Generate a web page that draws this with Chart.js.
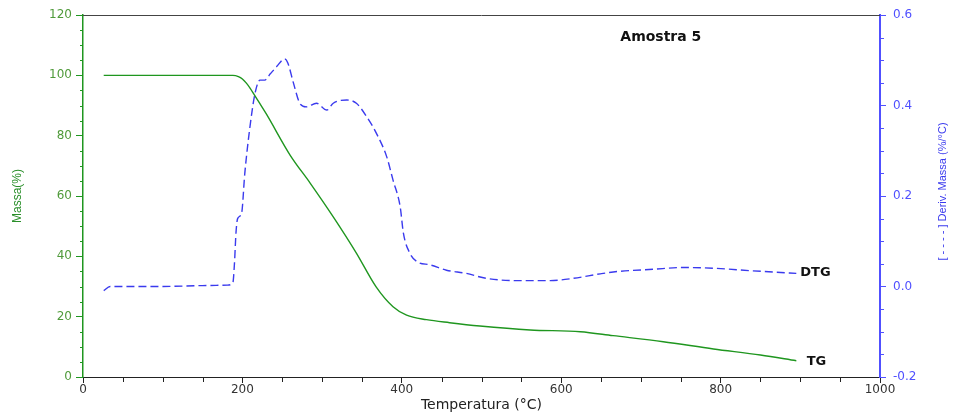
<!DOCTYPE html>
<html>
<head>
<meta charset="utf-8">
<script src="https://cdn.jsdelivr.net/npm/chart.js@4"></script>
<style>
  body { margin: 0; background: #fff; }
  #box { width: 953px; height: 412px; }
</style>
</head>
<body>
<div id="box"><canvas id="chart-tga"></canvas></div>
<script>
// TG curve: temperature (°C) and mass (%)
const tgTemp = [26, 100, 150, 188, 195, 200, 205, 210, 215, 222, 230, 260, 285, 314, 343, 368, 389, 406, 431, 460, 498, 561, 624, 665, 728, 791, 850, 895];
const tgMass = [100, 100, 100, 100, 99.6, 98.8, 97.4, 95.6, 93.5, 90.6, 87.2, 73.5, 64.3, 53.1, 41.1, 29.8, 23.3, 20.5, 19.0, 18.0, 16.9, 15.6, 15.0, 13.7, 11.7, 9.3, 7.3, 5.4];

// DTG curve: temperature (°C) and deriv. mass (%/°C)
const dtgTemp = [26, 34, 100, 150, 181, 188, 190, 192, 194, 199, 203, 210, 216, 222, 228, 235, 243, 253, 257, 264, 272, 280, 293, 306, 314, 331, 343, 356, 368, 381, 389, 398, 402, 410, 420, 435, 456, 481, 506, 544, 586, 615, 649, 670, 715, 753, 795, 837, 895];
const dtgDeriv = [-0.009, 0.0, 0.0, 0.002, 0.003, 0.008, 0.05, 0.12, 0.15, 0.162, 0.25, 0.36, 0.428, 0.456, 0.456, 0.47, 0.486, 0.503, 0.494, 0.45, 0.405, 0.397, 0.405, 0.39, 0.405, 0.412, 0.405, 0.375, 0.339, 0.287, 0.235, 0.176, 0.118, 0.074, 0.054, 0.048, 0.036, 0.029, 0.018, 0.013, 0.013, 0.018, 0.028, 0.033, 0.038, 0.042, 0.04, 0.035, 0.029];

const GREEN = "#1f961f";
const GREEN_TXT = "#4f9a3a";
const BLUE = "#3a3aee";
const BLUE_AXIS = "#5050ff";

// minor ticks, top frame line and the text labels inside the plot
const extras = {
  id: "extras",
  afterDraw(chart) {
    const { ctx, chartArea: a, scales } = chart;
    const { x, y, y1 } = scales;
    ctx.save();
    ctx.lineWidth = 1;

    ctx.strokeStyle = "#444";
    ctx.beginPath();
    ctx.moveTo(a.left, a.top + 0.5);
    ctx.lineTo(a.right, a.top + 0.5);
    ctx.stroke();

    ctx.strokeStyle = "#222";
    for (let v = 50; v < 1000; v += 50) {
      if (v % 200 === 0) continue;
      const px = Math.round(x.getPixelForValue(v)) + 0.5;
      ctx.beginPath();
      ctx.moveTo(px, a.bottom);
      ctx.lineTo(px, a.bottom + 5);
      ctx.stroke();
    }

    ctx.strokeStyle = GREEN;
    for (let v = 5; v < 120; v += 5) {
      if (v % 20 === 0) continue;
      const py = Math.round(y.getPixelForValue(v)) + 0.5;
      ctx.beginPath();
      ctx.moveTo(a.left, py);
      ctx.lineTo(a.left - 3, py);
      ctx.stroke();
    }

    ctx.strokeStyle = BLUE_AXIS;
    for (let i = 1; i < 16; i++) {
      if (i % 4 === 0) continue;
      const v = -0.2 + i * 0.05;
      const py = Math.round(y1.getPixelForValue(v)) + 0.5;
      ctx.beginPath();
      ctx.moveTo(a.right, py);
      ctx.lineTo(a.right + 4, py);
      ctx.stroke();
    }

    ctx.fillStyle = "#111";
    ctx.textBaseline = "middle";
    ctx.textAlign = "center";
    ctx.font = 'bold 14px "DejaVu Sans"';
    ctx.fillText("Amostra 5", x.getPixelForValue(725), y.getPixelForValue(112.7));

    ctx.textAlign = "left";
    ctx.font = 'bold 13px "DejaVu Sans"';
    ctx.fillText("DTG", x.getPixelForValue(900), y1.getPixelForValue(0.03));
    ctx.fillText("TG", x.getPixelForValue(908), y.getPixelForValue(5));

    // right axis title reads bottom to top
    ctx.translate(chart.width - 10, y1.getPixelForValue(0.21));
    ctx.rotate(-Math.PI / 2);
    ctx.textAlign = "center";
    ctx.fillStyle = BLUE;
    ctx.font = '11px "Liberation Sans"';
    ctx.fillText("[ - - - - ] Deriv. Massa (%/°C)", 0, 0);
    ctx.restore();
  },
};

const ctxTga = document.getElementById("chart-tga");

new Chart(ctxTga, {
  type: "line",
  data: {
    datasets: [
      {
        label: "TG",
        data: tgTemp.map((t, i) => ({ x: t, y: tgMass[i] })),
        yAxisID: "y",
        borderColor: GREEN,
        borderWidth: 1.4,
        pointRadius: 0,
        cubicInterpolationMode: "monotone",
      },
      {
        label: "DTG",
        data: dtgTemp.map((t, i) => ({ x: t, y: dtgDeriv[i] })),
        yAxisID: "y1",
        borderColor: BLUE,
        borderWidth: 1.4,
        borderDash: [8, 4],
        pointRadius: 0,
        cubicInterpolationMode: "monotone",
      },
    ],
  },
  options: {
    responsive: true,
    maintainAspectRatio: false,
    animation: false,
    layout: { padding: { top: 15, left: 0, right: 0, bottom: 0 } },
    plugins: { legend: { display: false }, tooltip: { enabled: false } },
    scales: {
      x: {
        type: "linear",
        min: 0,
        max: 1000,
        afterFit: (scale) => { scale.height = 35; },
        ticks: {
          stepSize: 200,
          color: "#333",
          padding: 0,
          font: { family: "DejaVu Sans", size: 12 },
          callback: (v) => String(v),
        },
        grid: { drawOnChartArea: false, tickLength: 6, tickColor: "#222" },
        border: { color: "#222", width: 1 },
        title: {
          display: true,
          text: "Temperatura (°C)",
          color: "#222",
          padding: 0,
          font: { family: "DejaVu Sans", size: 14, lineHeight: 1 },
        },
      },
      y: {
        position: "left",
        min: 0,
        max: 120,
        afterFit: (scale) => { scale.width = 83; },
        ticks: { stepSize: 20, color: GREEN_TXT, padding: 4, font: { family: "DejaVu Sans", size: 12 } },
        grid: { drawOnChartArea: false, tickLength: 7, tickColor: GREEN },
        border: { color: GREEN, width: 1.5 },
        title: {
          display: true,
          text: "Massa(%)",
          color: "#2a8f2a",
          padding: { top: 10, bottom: 0 },
          font: { family: "Liberation Sans", size: 12 },
        },
      },
      y1: {
        position: "right",
        min: -0.2,
        max: 0.6,
        afterFit: (scale) => { scale.width = 73; },
        ticks: {
          stepSize: 0.2,
          color: BLUE_AXIS,
          padding: 7,
          font: { family: "DejaVu Sans", size: 12 },
          callback: (v) => Number(v).toFixed(1),
        },
        grid: { drawOnChartArea: false, tickLength: 6, tickColor: BLUE_AXIS },
        border: { color: BLUE_AXIS, width: 2 },
      },
    },
  },
  plugins: [extras],
});
</script>
</body>
</html>
